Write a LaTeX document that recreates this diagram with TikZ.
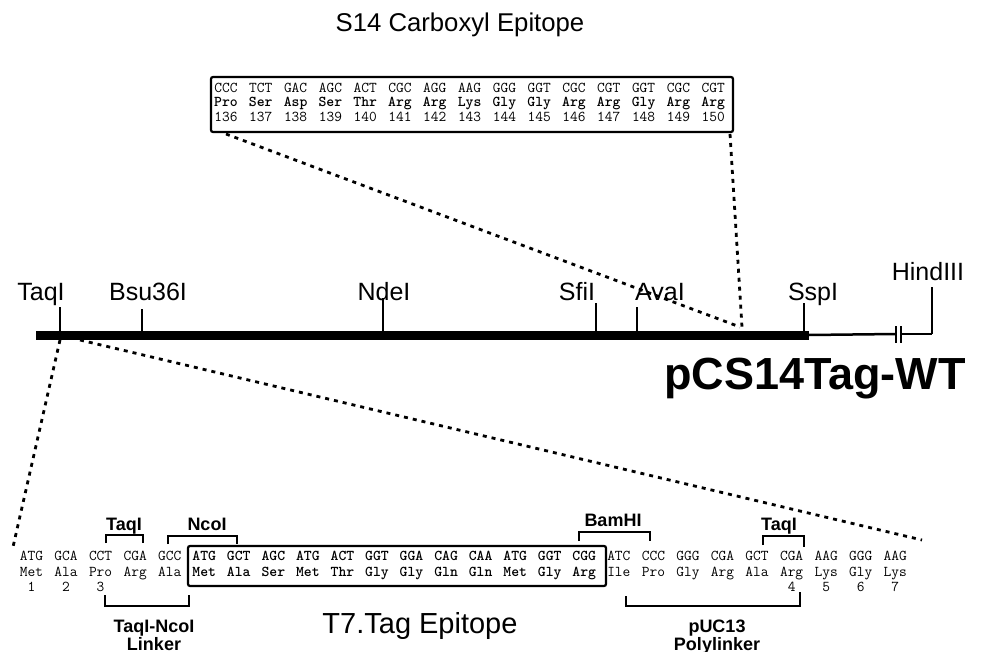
\documentclass[tikz,border=0pt]{standalone}
\usepackage{fontspec}
\setmainfont{Liberation Sans}
\begin{document}
\begin{tikzpicture}[x=1pt,y=-1pt,
  seq/.style={font=\ttfamily\fontsize{15}{16}\selectfont, inner sep=0pt, anchor=base},
  seqb/.style={font=\ttfamily\bfseries\fontsize{15}{16}\selectfont, inner sep=0pt, anchor=base},
  maplab/.style={font=\fontsize{25}{27}\selectfont, inner sep=0pt, anchor=base},
  brlab/.style={font=\bfseries\fontsize{18}{20}\selectfont, inner sep=0pt, anchor=base},
  tickline/.style={line width=1.4pt},
  bracket/.style={line width=1.4pt},
  dotline/.style={line width=2.8pt, dash pattern=on 4pt off 5pt},
  seqbox/.style={draw, line width=2.2pt, rounded corners=2pt, inner sep=0pt}]
\useasboundingbox (0,0) rectangle (984,652);

% Title
\node[font=\fontsize{25.7}{28}\selectfont, inner sep=0pt] (title) at (460,25) {S14 Carboxyl Epitope};

% Top sequence box
\node[seqbox, minimum width=522pt, minimum height=55pt] (topbox) at (472,104.5) {};
\foreach \c [count=\i from 0] in {CCC,TCT,GAC,AGC,ACT,CGC,AGG,AAG,GGG,GGT,CGC,CGT,GGT,CGC,CGT}
  \node[seq] (tc\i) at ({226+34.8*\i},93) {\c};
\foreach \a [count=\i from 0] in {Pro,Ser,Asp,Ser,Thr,Arg,Arg,Lys,Gly,Gly,Arg,Arg,Gly,Arg,Arg}
  \node[seqb] (ta\i) at ({226+34.8*\i},107) {\a};
\foreach \n [count=\i from 0] in {136,137,138,139,140,141,142,143,144,145,146,147,148,149,150}
  \node[seq] (tn\i) at ({226+34.8*\i},122) {\n};

% Map
\coordinate (barL) at (36,335);
\coordinate (barR) at (809,335);
\coordinate (brk1) at (896,334);
\coordinate (brk2) at (902,334);
\coordinate (hind) at (932,334);
\draw[line width=9pt] (barL) -- (barR);
\draw[line width=2.5pt] (barR) -- (brk1);
\draw[line width=2.5pt] (brk2) -- (hind);
\draw[tickline] (896,326) -- (896,343);
\draw[tickline] (901,326) -- (901,343);
\coordinate (hindtop) at (932,287);
\draw[tickline] (hind) -- (hindtop);

\foreach \nm/\x/\t in {taq/60/307, bsu/142/309, nde/383/298, sfi/596/303, ava/637/307, ssp/804/303}{
  \coordinate (\nm top) at (\x,\t);
  \coordinate (\nm bot) at (\x,331);
  \draw[tickline] (\nm top) -- (\nm bot);
}
\node[maplab] (lTaq) at (41,300) {TaqI};
\node[maplab] (lBsu) at (148,300) {Bsu36I};
\node[maplab] (lNde) at (384,300) {NdeI};
\node[maplab] (lSfi) at (577,300) {SfiI};
\node[maplab] (lAva) at (660,300) {AvaI};
\node[maplab] (lSsp) at (813,300) {SspI};
\node[maplab] (lHind) at (928,280) {HindIII};

\node[font=\bfseries\fontsize{45}{48}\selectfont, inner sep=0pt] (plasmid) at (815,379) {pCS14Tag-WT};

% Dotted zoom lines
\coordinate (ulA) at (226,134);
\coordinate (ulB) at (740,327);
\coordinate (urA) at (730,134);
\coordinate (urB) at (742,327);
\draw[dotline] (ulA) -- (ulB);
\draw[dotline] (urA) -- (urB);
\coordinate (llA) at (60,340);
\coordinate (llB) at (13,547);
\coordinate (lrA) at (80,340);
\coordinate (lrB) at (922,540);
\draw[dotline] (llA) -- (llB);
\draw[dotline] (lrA) -- (lrB);

% Bottom sequence
\node[seqbox, minimum width=418pt, minimum height=40pt] (t7box) at (397,566) {};
\foreach \c [count=\i from 0] in {ATG,GCA,CCT,CGA,GCC}
  \node[seq] (bc\i) at ({31.5+34.55*\i},560) {\c};
\foreach \c [count=\i from 5] in {ATG,GCT,AGC,ATG,ACT,GGT,GGA,CAG,CAA,ATG,GGT,CGG}
  \node[seqb] (bc\i) at ({31.5+34.55*\i},560) {\c};
\foreach \c [count=\i from 17] in {ATC,CCC,GGG,CGA,GCT,CGA,AAG,GGG,AAG}
  \node[seq] (bc\i) at ({31.5+34.55*\i},560) {\c};
\foreach \a [count=\i from 0] in {Met,Ala,Pro,Arg,Ala}
  \node[seq] (ba\i) at ({31.5+34.55*\i},576) {\a};
\foreach \a [count=\i from 5] in {Met,Ala,Ser,Met,Thr,Gly,Gly,Gln,Gln,Met,Gly,Arg}
  \node[seqb] (ba\i) at ({31.5+34.55*\i},576) {\a};
\foreach \a [count=\i from 17] in {Ile,Pro,Gly,Arg,Ala,Arg,Lys,Gly,Lys}
  \node[seq] (ba\i) at ({31.5+34.55*\i},576) {\a};
\foreach \n/\i in {1/0,2/1,3/2,4/22,5/23,6/24,7/25}
  \node[seq] (bn\n) at ({31.5+34.55*\i},591) {\n};

% Brackets
\draw[bracket] (106,543) -- (106,535) -- (143,535) -- (143,543);
\node[brlab] (bTaq1) at (124,530) {TaqI};
\draw[bracket] (168,544) -- (168,536) -- (237,536) -- (237,544);
\node[brlab] (bNco) at (207,530) {NcoI};
\draw[bracket] (579,541) -- (579,532) -- (650,532) -- (650,541);
\node[brlab] (bBam) at (613,526) {BamHI};
\draw[bracket] (763,545) -- (763,536) -- (804,536) -- (804,547);
\node[brlab] (bTaq2) at (779,530) {TaqI};
\draw[bracket] (105,595) -- (105,606) -- (189,606) -- (189,595);
\node[brlab] (bLink1) at (154,632) {TaqI-NcoI};
\node[brlab] (bLink2) at (154,650) {Linker};
\draw[bracket] (626,596) -- (626,606) -- (800,606) -- (800,592);
\node[brlab] (bPuc1) at (717,632) {pUC13};
\node[brlab] (bPuc2) at (717,650) {Polylinker};

\node[font=\fontsize{29}{31}\selectfont, inner sep=0pt] (t7lab) at (420,626) {T7.Tag Epitope};
\end{tikzpicture}
\end{document}
